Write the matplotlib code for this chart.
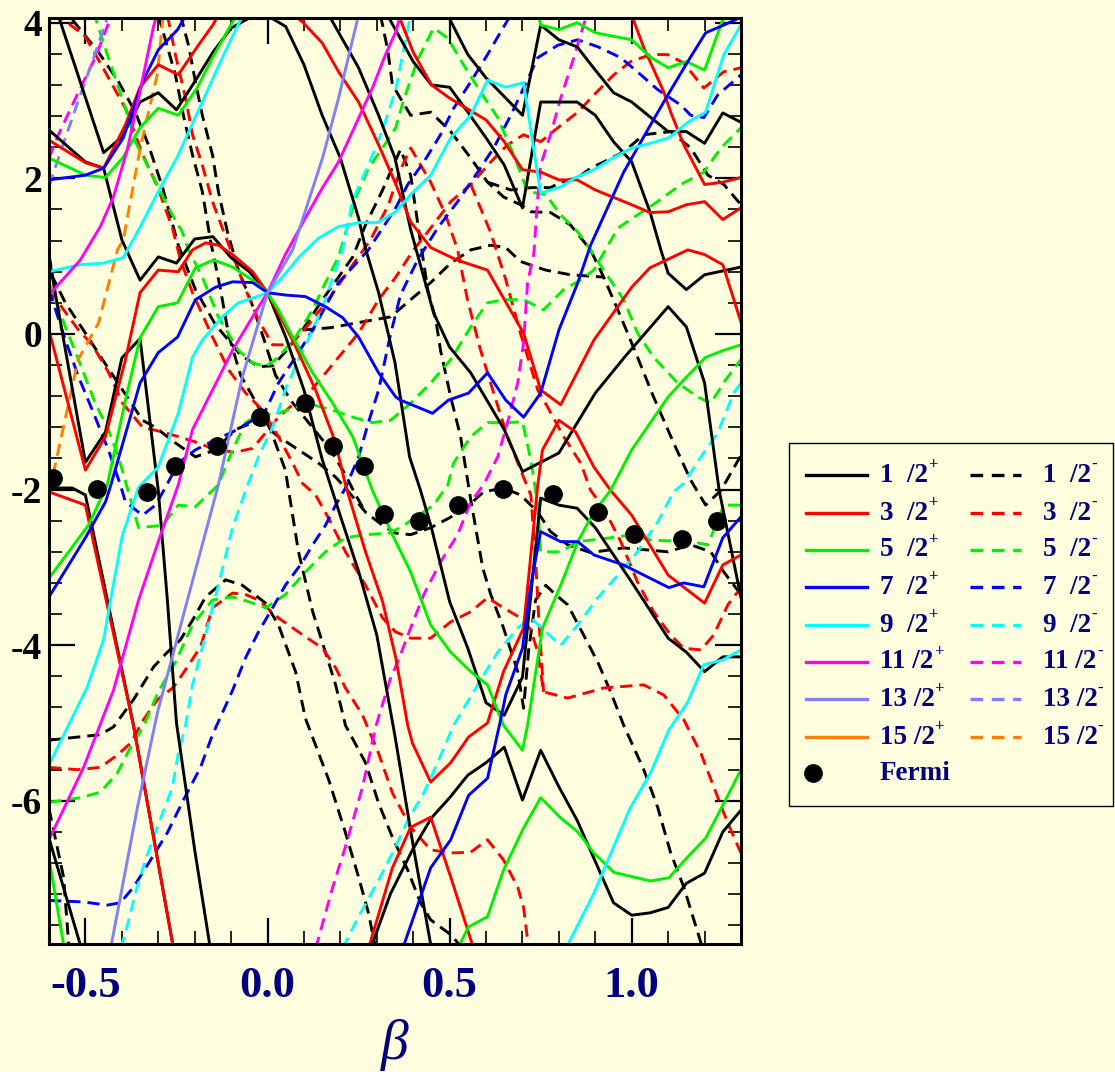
import matplotlib
matplotlib.use('Agg')
import matplotlib.pyplot as plt
from matplotlib.lines import Line2D
from matplotlib.patches import Rectangle
from matplotlib.ticker import MultipleLocator, FormatStrFormatter

plt.rcParams['axes.unicode_minus'] = False

bg = '#ffffe0'
navy = '#000080'

# ---- positive parity levels (solid), (beta, E) pairs ----
k1 = [(-0.575,4.10),(-0.45,2.33),(-0.40,2.53),(-0.35,2.98),(-0.30,3.10),(-0.25,2.88),(-0.20,3.24),(-0.15,3.62),(-0.10,3.93),(-0.05,4.06),(0.0,4.09),(0.05,3.95),(0.10,3.46),(0.15,2.81),(0.20,2.26),(0.25,1.49),(0.27,1.08),(0.305,0.53),(0.35,-0.37),(0.39,-1.58),(0.42,-2.01),(0.45,-2.49),(0.50,-3.44),(0.55,-4.04),(0.60,-4.74),(0.65,-4.90),(0.70,-4.41),(0.75,-2.11),(0.80,-2.20),(0.85,-2.24),(0.90,-2.49),(1.00,-3.19),(1.10,-3.91),(1.15,-4.09),(1.20,-4.34),(1.25,-4.15),(1.30,-4.15)]
k2 = [(-0.60,2.62),(-0.50,2.21),(-0.45,2.13),(-0.40,1.21),(-0.35,0.69),(-0.30,0.99),(-0.25,0.91),(-0.20,1.22),(-0.15,1.25),(-0.10,0.98),(-0.05,0.80),(0.0,0.53),(0.05,-0.04),(0.10,-0.72),(0.15,-1.61),(0.20,-2.34),(0.25,-3.05),(0.30,-3.87),(0.35,-5.17),(0.40,-6.58),(0.45,-7.90)]
k3 = [(-0.60,0.98),(-0.50,-1.65),(-0.445,-1.26),(-0.40,-0.31),(-0.35,-0.06),(-0.30,-2.01),(-0.275,-3.42),(-0.25,-5.00),(-0.20,-6.63),(-0.157,-7.90)]
k4 = [(-0.60,-1.98),(-0.536,-1.98),(-0.50,-2.07),(-0.368,-5.03),(-0.258,-7.90)]
k5 = [(-0.60,-6.48),(-0.511,-7.90)]
k6 = [(0.283,-7.90),(0.338,-7.19),(0.398,-6.63),(0.45,-6.22),(0.50,-5.96),(0.55,-5.67),(0.60,-5.51),(0.65,-5.31),(0.70,-5.99),(0.75,-5.35),(0.80,-5.82),(0.85,-6.25),(0.95,-7.31),(1.00,-7.47),(1.05,-7.44),(1.10,-7.37),(1.15,-7.06),(1.20,-6.93),(1.25,-6.40),(1.30,-6.12)]
k7 = [(0.324,4.14),(0.40,3.50),(0.45,3.20),(0.50,3.17),(0.55,2.85),(0.60,2.52),(0.65,2.17),(0.70,1.62),(0.75,2.98),(0.85,2.98),(0.90,2.81),(0.95,2.47),(1.00,2.21),(1.05,1.57),(1.08,1.08),(1.10,0.78),(1.15,0.57),(1.20,0.76),(1.30,0.86)]
k8 = [(0.49,4.14),(0.55,3.59),(0.60,3.29),(0.65,3.05),(0.70,2.81),(0.75,3.97),(0.80,3.78),(0.85,3.69),(0.90,3.39),(0.95,3.10),(1.00,2.98),(1.05,2.79),(1.10,2.60),(1.15,2.60),(1.20,2.45),(1.25,2.84),(1.30,2.72)]
k9 = [(0.168,4.10),(0.25,3.42),(0.305,2.81),(0.35,2.26),(0.393,1.34),(0.456,0.27),(0.50,-0.17),(0.558,-0.50),(0.65,-1.23),(0.70,-1.77),(0.80,-1.53),(0.90,-0.76),(0.98,-0.30),(1.10,0.35),(1.15,0.09),(1.20,-0.63),(1.24,-2.01),(1.30,-3.39)]

r1 = [(-0.60,2.49),(-0.50,2.20),(-0.45,2.13),(-0.39,2.69),(-0.35,3.17),(-0.30,3.46),(-0.245,3.33),(-0.19,3.71),(-0.15,3.97),(-0.135,4.10)]
r2 = [(0.063,4.13),(0.096,4.01),(0.15,3.74),(0.195,3.37),(0.25,2.98),(0.305,2.43),(0.35,1.95),(0.393,1.44),(0.448,1.11),(0.52,0.95),(0.604,0.82),(0.703,0.01),(0.75,-0.72),(0.805,-0.91),(0.896,-0.08),(1.00,0.60),(1.05,0.85),(1.154,1.08),(1.20,1.02),(1.25,0.89),(1.30,0.15)]
r3 = [(0.357,4.13),(0.40,3.62),(0.45,3.20),(0.50,3.03),(0.55,2.89),(0.60,2.75),(0.65,2.47),(0.70,2.11),(0.75,2.08),(0.80,1.98),(0.85,1.98),(0.90,1.85),(1.00,1.66),(1.05,1.56),(1.10,1.57),(1.15,1.66),(1.20,1.70),(1.25,1.47),(1.30,1.62)]
r4 = [(0.997,4.13),(1.033,3.68),(1.088,3.11),(1.107,2.85),(1.143,2.43),(1.20,1.92),(1.25,1.95),(1.30,2.01)]
r5 = [(-0.60,-2.03),(-0.50,-2.20),(-0.368,-5.03),(-0.258,-7.90)]
r6 = [(-0.60,0.05),(-0.50,-1.75),(-0.445,-1.32),(-0.39,-0.33),(-0.35,0.53),(-0.30,0.82),(-0.245,0.80),(-0.206,1.08),(-0.17,1.17),(-0.135,1.14),(-0.096,1.02),(-0.041,0.80),(0.0,0.53),(0.069,-0.08),(0.132,-0.72),(0.187,-1.40),(0.214,-1.94),(0.269,-2.80),(0.316,-3.44),(0.352,-4.16),(0.385,-5.03),(0.398,-5.26),(0.448,-5.76),(0.503,-5.51),(0.552,-5.18),(0.604,-5.00),(0.648,-4.34),(0.703,-3.78),(0.742,-1.94),(0.755,-1.49),(0.80,-1.11),(0.846,-1.26),(0.896,-1.71),(0.942,-2.01),(1.00,-2.33),(1.10,-3.10),(1.20,-3.46),(1.25,-2.97),(1.30,-2.84)]
r7 = [(0.277,-7.90),(0.343,-6.86),(0.393,-6.34),(0.448,-6.21),(0.503,-6.98),(0.566,-7.90)]

g1 = [(-0.60,2.26),(-0.50,2.04),(-0.445,2.01),(-0.398,2.26),(-0.35,2.65),(-0.30,2.90),(-0.245,2.81),(-0.192,3.17),(-0.151,3.55),(-0.096,4.01),(-0.08,4.14)]
g2 = [(0.742,4.14),(0.75,3.97),(0.80,3.91),(0.85,4.00),(0.90,3.87),(1.00,3.78),(1.05,3.56),(1.10,3.42),(1.15,3.50),(1.20,3.39),(1.25,4.04),(1.30,4.10)]
g3 = [(-0.60,-3.14),(-0.492,-2.46),(-0.44,-1.94),(-0.39,-0.85),(-0.35,-0.05),(-0.30,0.35),(-0.247,0.40),(-0.198,0.85),(-0.148,0.95),(-0.096,0.86),(-0.041,0.69),(0.0,0.53),(0.03,0.31),(0.069,-0.04),(0.124,-0.50),(0.179,-0.89),(0.234,-1.32),(0.288,-2.01),(0.343,-2.58),(0.393,-3.06),(0.448,-3.74),(0.503,-4.09),(0.558,-4.34),(0.604,-4.51),(0.648,-5.03),(0.70,-5.35),(0.714,-5.03),(0.755,-3.78),(0.805,-3.23),(0.852,-2.67),(0.896,-2.29),(0.942,-2.01),(1.00,-1.49),(1.10,-0.81),(1.143,-0.59),(1.203,-0.30),(1.253,-0.21),(1.30,-0.14)]
g4 = [(0.522,-7.90),(0.552,-7.62),(0.604,-7.49),(0.648,-6.89),(0.703,-6.35),(0.75,-5.96),(0.805,-6.22),(0.852,-6.40),(0.896,-6.67),(0.951,-6.92),(1.052,-7.03),(1.102,-6.99),(1.154,-6.72),(1.203,-6.48),(1.253,-6.03),(1.30,-5.60)]
g5 = [(-0.60,-6.74),(-0.558,-7.90)]

b1 = [(-0.60,1.98),(-0.50,2.04),(-0.45,2.13),(-0.396,2.52),(-0.343,3.24),(-0.30,3.65),(-0.247,3.91),(-0.22,4.13)]
b2 = [(-0.60,-3.38),(-0.50,-2.62),(-0.445,-2.16),(-0.43,-1.94),(-0.35,-0.63),(-0.30,-0.24),(-0.247,-0.04),(-0.198,0.44),(-0.143,0.60),(-0.096,0.67),(-0.041,0.66),(0.0,0.53),(0.049,0.50),(0.104,0.48),(0.159,0.35),(0.206,0.21),(0.25,-0.04),(0.305,-0.50),(0.352,-0.81),(0.365,-0.85),(0.453,-1.02),(0.497,-0.85),(0.552,-0.76),(0.604,-0.50),(0.654,-0.85),(0.703,-1.07),(0.75,-0.76),(0.80,0.05),(0.852,0.66),(0.887,1.14),(0.978,2.08),(1.052,2.69),(1.099,3.07),(1.154,3.50),(1.203,3.87),(1.253,3.97),(1.30,4.07)]
b3 = [(0.371,-7.90),(0.448,-6.86),(0.503,-6.50),(0.552,-5.93),(0.604,-5.71),(0.64,-4.96),(0.654,-4.64),(0.70,-4.04),(0.723,-3.23),(0.75,-2.54),(0.805,-2.67),(0.852,-2.67),(0.896,-2.84),(0.978,-2.97),(1.102,-3.26),(1.143,-3.20),(1.198,-3.25),(1.25,-2.62),(1.30,-2.35)]

c1 = [(-0.60,0.80),(-0.514,0.89),(-0.45,0.91),(-0.396,0.98),(-0.349,1.38),(-0.302,1.81),(-0.247,2.28),(-0.179,2.98),(-0.124,3.55),(-0.074,4.04),(-0.063,4.14)]
c2 = [(-0.60,-5.54),(-0.495,-4.54),(-0.45,-3.93),(-0.431,-3.42),(-0.398,-2.58),(-0.354,-1.97),(-0.30,-1.71),(-0.245,-1.02),(-0.206,-0.30),(-0.179,-0.08),(-0.124,0.22),(-0.08,0.40),(-0.041,0.46),(0.0,0.53),(0.041,0.73),(0.085,0.98),(0.14,1.23),(0.195,1.38),(0.25,1.43),(0.302,1.43),(0.352,1.57),(0.393,1.79),(0.448,2.04),(0.503,2.52),(0.558,2.81),(0.604,3.26),(0.654,3.17),(0.703,3.23),(0.742,2.04),(0.75,1.81),(0.805,1.89),(0.846,2.01),(0.896,2.11),(0.948,2.26),(1.00,2.39),(1.052,2.45),(1.102,2.52),(1.154,2.72),(1.203,2.85),(1.253,3.59),(1.30,3.97)]
c3 = [(0.819,-7.90),(0.896,-7.19),(0.997,-6.08),(1.052,-5.64),(1.102,-5.09),(1.154,-4.73),(1.198,-4.25),(1.25,-4.19),(1.30,-4.06)]

m1 = [(-0.60,0.50),(-0.514,0.95),(-0.459,1.38),(-0.423,1.76),(-0.385,2.37),(-0.349,3.14),(-0.313,3.95),(-0.302,4.13)]
m2 = [(-0.60,-6.50),(-0.505,-5.57),(-0.423,-4.58),(-0.354,-3.42),(-0.30,-2.67),(-0.245,-1.94),(-0.206,-1.23),(-0.151,-0.72),(-0.096,-0.21),(-0.041,0.22),(0.0,0.53),(0.049,1.02),(0.104,1.49),(0.151,1.88),(0.195,2.21),(0.242,2.69),(0.288,3.16),(0.324,3.59),(0.352,3.88),(0.365,4.10)]
l1 = [(-0.431,-7.90),(-0.357,-6.08),(-0.302,-4.86),(-0.22,-3.42),(-0.135,-1.94),(-0.069,-0.55),(0.0,0.53),(0.069,1.08),(0.151,2.26),(0.195,3.03),(0.25,4.10)]

# ---- negative parity levels (dashed) ----
kd1 = [(-0.536,4.04),(-0.464,3.62),(-0.409,3.24),(-0.363,2.85),(-0.327,2.43),(-0.288,1.88),(-0.245,1.14),(-0.198,0.57),(-0.143,0.12),(-0.074,-0.27),(-0.025,-0.42),(0.014,-0.41),(0.049,-0.23),(0.096,0.05),(0.151,0.44),(0.195,0.73),(0.234,0.99),(0.269,1.40),(0.316,1.85),(0.346,2.17),(0.365,2.37),(0.393,2.04),(0.415,1.34),(0.44,0.57),(0.462,0.18),(0.475,-0.21),(0.503,-0.81),(0.53,-1.32),(0.558,-2.13),(0.591,-3.01),(0.613,-3.35),(0.648,-3.78),(0.687,-4.34),(0.703,-4.81),(0.717,-4.06),(0.736,-3.42),(0.764,-3.23),(0.791,-3.35),(0.824,-3.48),(0.868,-3.87),(0.907,-4.22),(0.942,-4.60),(0.978,-5.03),(1.033,-5.60),(1.071,-6.08),(1.107,-6.67),(1.143,-7.11),(1.195,-7.90)]
kd2 = [(0.31,4.10),(0.33,3.65),(0.343,3.20),(0.393,2.81),(0.448,2.85),(0.503,2.60),(0.558,2.26),(0.604,1.95),(0.648,1.76),(0.695,1.66),(0.723,1.57),(0.777,1.56),(0.832,1.40),(0.887,1.08),(0.923,0.73),(0.97,0.22),(1.016,-0.30),(1.06,-0.81),(1.115,-1.40),(1.162,-1.88),(1.203,-2.20),(1.245,-2.01),(1.30,-1.56)]
kd3 = [(-0.60,1.02),(-0.59,0.73),(-0.555,0.40),(-0.50,0.01),(-0.453,-0.33),(-0.398,-0.72),(-0.343,-1.11),(-0.308,-1.20),(-0.253,-1.40),(-0.198,-1.58),(-0.143,-1.49),(-0.088,-1.23),(-0.025,-1.11),(0.03,-1.32),(0.085,-1.49),(0.14,-1.66),(0.187,-1.84),(0.214,-1.98),(0.269,-2.29),(0.316,-2.46),(0.352,-2.56),(0.393,-2.58),(0.448,-2.49),(0.497,-2.37),(0.544,-2.24),(0.593,-2.03),(0.648,-1.98),(0.695,-2.07),(0.742,-2.29),(0.777,-2.54),(0.824,-2.71),(0.887,-2.81),(0.978,-2.75),(1.052,-2.78),(1.099,-2.80),(1.162,-2.71),(1.217,-2.80),(1.253,-3.06),(1.30,-3.35)]
kd4 = [(-0.60,-5.22),(-0.459,-5.15),(-0.423,-5.05),(-0.368,-4.70),(-0.313,-4.28),(-0.275,-4.09),(-0.239,-3.93),(-0.206,-3.68),(-0.17,-3.38),(-0.115,-3.16),(-0.069,-3.23),(-0.005,-3.46),(0.03,-3.74),(0.077,-4.34),(0.104,-4.94),(0.168,-5.73),(0.214,-6.41),(0.25,-6.98),(0.277,-7.44),(0.297,-7.90)]
kd5 = [(-0.30,4.10),(-0.253,3.33),(-0.231,2.81),(-0.206,2.30),(-0.179,1.83),(-0.157,1.21),(-0.129,0.57),(-0.107,-0.01),(-0.074,-0.53),(-0.033,-0.87),(0.008,-1.23),(0.049,-1.75),(0.085,-2.80),(0.124,-3.57),(0.159,-4.09),(0.187,-4.51),(0.214,-5.03),(0.269,-5.51),(0.305,-6.03),(0.343,-6.47),(0.385,-6.89),(0.42,-7.31),(0.448,-7.53),(0.503,-7.72),(0.536,-7.90)]
kd6 = [(-0.239,4.10),(-0.217,3.71),(-0.198,3.24),(-0.179,2.81),(-0.151,2.30),(-0.135,1.83),(-0.11,1.31),(-0.08,0.82),(-0.047,0.44),(-0.014,-0.01),(0.022,-0.53),(0.063,-0.85),(0.118,-1.17),(0.173,-1.49),(0.214,-1.81),(0.242,-2.07),(0.269,-2.29)]
kd7 = [(-0.60,-6.10),(-0.56,-6.98),(-0.545,-7.90)]
kd8 = [(0.604,1.95),(0.668,1.85),(0.723,1.88),(0.777,1.88),(0.805,1.95),(0.852,2.01),(0.887,2.13),(0.923,2.21),(0.978,2.34),(1.033,2.56),(1.107,2.60),(1.162,2.39),(1.209,2.04),(1.253,1.92),(1.30,1.66)]
kd9 = [(0.096,0.05),(0.173,0.08),(0.255,0.15),(0.338,0.22),(0.393,0.44),(0.448,0.66),(0.503,0.91),(0.558,1.08),(0.613,1.14),(0.654,1.11),(0.695,0.93),(0.764,0.82),(0.832,0.76),(0.923,0.73)]

rd1 = [(-0.588,4.13),(-0.503,3.84),(-0.453,3.43),(-0.387,2.87),(-0.346,2.34),(-0.302,1.89),(-0.261,1.36),(-0.239,0.95),(-0.206,0.53),(-0.151,-0.04),(-0.107,-0.46),(-0.06,-0.76),(-0.014,-0.98),(0.03,-1.32),(0.069,-1.66),(0.096,-1.92),(0.132,-2.07),(0.168,-2.37),(0.214,-2.80),(0.269,-3.23),(0.316,-3.65),(0.352,-3.83),(0.393,-3.91),(0.448,-3.91),(0.503,-3.70),(0.558,-3.57),(0.604,-3.39),(0.648,-3.52),(0.695,-3.65),(0.723,-3.80),(0.742,-4.09),(0.758,-4.60),(0.824,-4.68),(0.923,-4.55),(1.033,-4.51),(1.088,-4.64),(1.143,-4.96),(1.19,-5.39),(1.225,-5.82),(1.264,-6.29),(1.30,-6.67)]
rd2 = [(-0.275,4.10),(-0.253,3.59),(-0.225,3.03),(-0.206,2.56),(-0.179,2.17),(-0.151,1.70),(-0.124,1.36),(-0.096,1.02),(-0.06,0.57),(-0.025,0.18),(0.014,-0.14),(0.063,-0.14),(0.118,0.15),(0.173,0.48),(0.228,0.85),(0.283,1.21),(0.332,1.66),(0.365,2.11),(0.393,2.39),(0.448,1.95),(0.489,1.53),(0.522,1.08),(0.549,0.44),(0.585,-0.21),(0.621,-0.76),(0.659,-1.32),(0.695,-1.75),(0.723,-2.07),(0.736,-2.90),(0.745,-3.68),(0.758,-4.60)]
rd3 = [(-0.60,-5.57),(-0.522,-5.60),(-0.459,-5.57),(-0.412,-5.41),(-0.376,-5.26),(-0.341,-4.96),(-0.302,-4.70),(-0.258,-4.54),(-0.22,-4.28),(-0.184,-4.02),(-0.151,-3.52),(-0.096,-3.33),(-0.06,-3.35),(-0.025,-3.42),(0.03,-3.65),(0.085,-3.83),(0.151,-4.04),(0.187,-4.29),(0.214,-4.55),(0.261,-4.90),(0.305,-5.39),(0.343,-5.90),(0.393,-6.34),(0.448,-6.63),(0.503,-6.67),(0.558,-6.66),(0.604,-6.50),(0.648,-6.76),(0.687,-7.11),(0.703,-7.37),(0.717,-7.90)]
rd4 = [(-0.60,0.57),(-0.555,0.28),(-0.519,0.05),(-0.481,-0.14),(-0.437,-0.49),(-0.398,-0.89),(-0.343,-1.20),(-0.288,-1.26),(-0.245,-1.32),(-0.19,-1.40),(-0.143,-1.49),(-0.088,-1.52),(-0.041,-1.47),(-0.014,-1.32),(0.03,-1.07),(0.069,-0.91),(0.104,-0.81),(0.151,-0.55),(0.195,-0.30),(0.25,0.01),(0.305,0.44),(0.352,0.73),(0.401,1.08),(0.448,1.36),(0.503,1.70),(0.558,1.92),(0.613,2.21),(0.659,2.43),(0.703,2.56),(0.75,2.47),(0.797,2.65),(0.852,2.85),(0.896,3.07),(0.951,3.33),(0.997,3.50),(1.052,3.59),(1.099,3.59),(1.143,3.48),(1.198,3.16),(1.253,3.37),(1.30,3.42)]
rd5 = [(0.558,1.92),(0.613,1.30),(0.654,0.70),(0.695,0.0),(0.742,-0.72),(0.769,-0.94),(0.813,-1.32),(0.86,-1.66),(0.887,-2.01),(0.923,-2.24),(0.97,-2.67),(1.016,-3.19),(1.06,-3.57),(1.107,-3.87),(1.143,-4.04),(1.19,-4.06),(1.225,-3.87),(1.264,-3.48),(1.30,-3.26)]

gd1 = [(-0.478,4.14),(-0.437,3.55),(-0.39,2.90),(-0.363,2.47),(-0.316,2.04),(-0.272,1.62),(-0.234,1.31),(-0.217,1.08),(-0.179,0.73),(-0.135,0.22),(-0.08,-0.21),(-0.041,-0.37),(-0.005,-0.42),(0.03,-0.30),(0.077,-0.04),(0.124,0.31),(0.159,0.66),(0.195,0.99),(0.242,1.75),(0.277,2.13),(0.316,2.39),(0.352,2.65),(0.374,3.01),(0.412,3.52),(0.456,3.93),(0.495,3.80),(0.538,3.46),(0.585,3.11),(0.632,2.78),(0.676,2.30),(0.714,1.83),(0.764,1.79),(0.805,1.53),(0.852,1.31),(0.887,1.08),(0.923,0.82),(0.978,0.44),(1.016,0.01),(1.06,-0.30),(1.126,-0.63),(1.181,-0.81),(1.217,-0.89),(1.258,-0.59),(1.30,-0.33)]
gd2 = [(-0.60,0.66),(-0.555,0.09),(-0.519,-0.33),(-0.473,-0.89),(-0.437,-1.23),(-0.409,-1.58),(-0.382,-2.03),(-0.354,-2.49),(-0.288,-2.46),(-0.245,-2.20),(-0.198,-2.22),(-0.135,-1.94),(-0.096,-1.49),(-0.06,-1.14),(-0.025,-1.04),(0.03,-1.02),(0.077,-0.94),(0.124,-0.91),(0.179,-0.98),(0.234,-1.07),(0.288,-1.14),(0.338,-1.11),(0.393,-0.89),(0.448,-0.63),(0.503,-0.33),(0.558,0.09),(0.604,0.40),(0.648,0.44),(0.703,0.44),(0.758,0.31),(0.813,0.57),(0.852,0.67),(0.896,0.82),(0.962,1.36),(1.016,1.53),(1.071,1.70),(1.135,1.92),(1.198,2.08),(1.245,2.39),(1.30,2.65)]
gd3 = [(-0.60,-6.02),(-0.514,-5.96),(-0.459,-5.89),(-0.412,-5.64),(-0.376,-5.31),(-0.341,-5.05),(-0.30,-4.60),(-0.253,-4.22),(-0.206,-3.74),(-0.151,-3.42),(-0.096,-3.38),(-0.052,-3.44),(-0.005,-3.52),(0.049,-3.35),(0.104,-3.06),(0.159,-2.80),(0.214,-2.62),(0.269,-2.58),(0.332,-2.56),(0.365,-2.49),(0.456,-2.20),(0.495,-1.94),(0.511,-1.66),(0.558,-1.32),(0.604,-1.14),(0.654,-1.14),(0.70,-1.13),(0.723,-1.62),(0.742,-2.20),(0.75,-2.80),(0.805,-2.80),(0.852,-2.67),(0.942,-2.62),(1.00,-2.58),(1.052,-2.65),(1.162,-2.67),(1.209,-2.71),(1.253,-2.20),(1.30,-2.20)]

bd1 = [(-0.60,0.57),(-0.555,-0.08),(-0.519,-0.55),(-0.481,-0.98),(-0.437,-1.49),(-0.404,-1.94),(-0.39,-2.16),(-0.343,-2.33),(-0.308,-2.20),(-0.28,-1.97),(-0.245,-1.66),(-0.198,-1.49),(-0.143,-1.36),(-0.096,-1.26),(-0.041,-1.11),(-0.005,-0.98),(0.03,-0.63),(0.085,-0.24),(0.124,0.05),(0.159,0.35),(0.195,0.66),(0.234,0.86),(0.277,1.08),(0.316,1.36),(0.352,1.62),(0.385,1.92),(0.429,2.21),(0.475,2.56),(0.511,2.90),(0.558,3.24),(0.604,3.59),(0.64,3.88),(0.668,4.10)]
bd2 = [(-0.60,-7.28),(-0.505,-7.30),(-0.44,-7.34),(-0.404,-7.31),(-0.368,-7.11),(-0.321,-6.76),(-0.275,-6.41),(-0.231,-5.99),(-0.184,-5.57),(-0.151,-5.15),(-0.096,-4.58),(-0.06,-4.16),(-0.025,-3.83),(0.014,-3.52),(0.049,-3.23),(0.096,-2.93),(0.124,-2.71),(0.159,-2.46),(0.187,-2.20),(0.214,-1.98),(0.25,-1.58),(0.277,-1.14),(0.305,-0.72),(0.338,0.0),(0.365,0.50),(0.412,0.95),(0.467,1.36),(0.522,1.70),(0.577,2.08),(0.621,2.39),(0.668,2.81),(0.703,3.16),(0.742,3.55),(0.797,3.71),(0.852,3.78),(0.907,3.69),(0.97,3.55),(1.025,3.33),(1.071,3.14),(1.135,2.94),(1.162,2.81),(1.198,2.78),(1.236,3.07),(1.30,3.33)]

cd1 = [(-0.404,-7.90),(-0.39,-7.70),(-0.363,-7.19),(-0.335,-6.76),(-0.308,-6.41),(-0.288,-6.16),(-0.261,-5.82),(-0.245,-5.39),(-0.225,-5.03),(-0.206,-4.51),(-0.17,-3.87),(-0.135,-3.23),(-0.096,-2.49),(-0.06,-2.01),(-0.025,-1.58),(0.014,-1.20),(0.049,-0.72),(0.085,-0.33),(0.124,0.05),(0.159,0.44),(0.187,0.82),(0.206,1.08),(0.234,1.72),(0.277,2.17),(0.316,2.62),(0.352,3.14),(0.393,4.10)]
cd2 = [(0.206,-7.90),(0.25,-7.49),(0.305,-7.02),(0.352,-6.59),(0.385,-6.25),(0.429,-5.90),(0.467,-5.51),(0.511,-5.03),(0.577,-4.51),(0.632,-4.09),(0.687,-3.78),(0.723,-3.65),(0.764,-3.83),(0.805,-4.00),(0.852,-3.74),(0.907,-3.39),(0.962,-3.10),(1.016,-2.80),(1.071,-2.42),(1.115,-2.03),(1.143,-1.92),(1.19,-1.58),(1.236,-1.27),(1.28,-0.76),(1.30,-0.63)]

md1 = [(-0.60,2.26),(-0.574,2.56),(-0.519,3.11),(-0.473,3.55),(-0.431,4.06)]
md2 = [(0.132,-7.90),(0.179,-7.11),(0.214,-6.59),(0.261,-5.82),(0.297,-5.05),(0.338,-4.42),(0.357,-4.22),(0.393,-3.78),(0.429,-3.35),(0.475,-2.93),(0.522,-2.58),(0.558,-2.16),(0.593,-1.94),(0.632,-1.58),(0.659,-1.14),(0.687,-0.63),(0.703,-0.12),(0.714,0.66),(0.731,1.02),(0.742,1.75),(0.75,2.17),(0.777,2.56),(0.805,3.03),(0.841,3.55),(0.868,3.97),(0.879,4.14)]
ld1 = [(-0.60,1.90),(-0.59,2.04),(-0.555,2.52),(-0.514,3.07),(-0.481,3.50),(-0.437,4.10)]
od1 = [(-0.60,-2.05),(-0.52,-0.33),(-0.464,0.14),(-0.412,1.08),(-0.396,1.21),(-0.349,2.40),(-0.302,3.35),(-0.286,4.13)]

# Fermi level
fermi_beta = [-0.59,-0.467,-0.33,-0.255,-0.14,-0.022,0.104,0.181,0.266,0.321,0.415,0.522,0.646,0.783,0.907,1.005,1.137,1.234]
fermi_e = [-1.85,-1.99,-2.03,-1.70,-1.44,-1.07,-0.89,-1.44,-1.70,-2.31,-2.40,-2.20,-1.99,-2.06,-2.29,-2.57,-2.64,-2.40]

numerators = ['1', '3', '5', '7', '9', '11', '13', '15']
colors = ['#000000', '#ff0000', '#00f000', '#0000ff', '#00ffff', '#ff00ff', '#8080ff', '#ff8000']
solid_sets = [[k1, k2, k3, k4, k5, k6, k7, k8, k9], [r1, r2, r3, r4, r5, r6, r7],
              [g1, g2, g3, g4, g5], [b1, b2, b3], [c1, c2, c3], [m1, m2], [l1], []]
dashed_sets = [[kd1, kd2, kd3, kd4, kd5, kd6, kd7, kd8, kd9], [rd1, rd2, rd3, rd4, rd5],
               [gd1, gd2, gd3], [bd1, bd2], [cd1, cd2], [md1, md2], [ld1], [od1]]

LW = 2.1
DASH = (0, (4.2, 2.4))

fig = plt.figure(figsize=(11.15, 10.72), dpi=100, facecolor=bg)
W, H = 1115.0, 1072.0
ax = fig.add_axes([49 / W, 1 - 944 / H, 692 / W, 926 / H])
ax.set_facecolor(bg)

for col, curves in zip(colors, dashed_sets):
    for c in curves:
        bb, ee = zip(*c)
        ax.plot(bb, ee, color=col, lw=LW, ls=DASH)
for col, curves in zip(colors, solid_sets):
    for c in curves:
        bb, ee = zip(*c)
        ax.plot(bb, ee, color=col, lw=LW, ls='-')
ax.plot(fermi_beta, fermi_e, ls='none', marker='o', ms=12.5, color='black', zorder=5)

ax.set_xlim(-0.6, 1.3)
ax.set_ylim(-7.84, 4.06)
ax.xaxis.set_major_locator(MultipleLocator(0.5))
ax.xaxis.set_minor_locator(MultipleLocator(0.1))
ax.yaxis.set_major_locator(MultipleLocator(2))
ax.yaxis.set_minor_locator(MultipleLocator(0.4))
ax.xaxis.set_major_formatter(FormatStrFormatter('%.1f'))
ax.yaxis.set_major_formatter(FormatStrFormatter('%d'))
ax.tick_params(which='major', direction='in', top=True, right=True, length=19, width=1.6)
ax.tick_params(which='minor', direction='in', top=True, right=True, length=9.5, width=1.2)
ax.tick_params(axis='x', pad=16)
ax.tick_params(axis='y', pad=5)
for lab in ax.get_xticklabels():
    lab.set_fontfamily('Liberation Serif'); lab.set_fontweight('bold')
    lab.set_fontsize(32); lab.set_color(navy)
for lab in ax.get_yticklabels():
    lab.set_fontfamily('Liberation Serif'); lab.set_fontweight('bold')
    lab.set_fontsize(27); lab.set_color('black')
for s in ax.spines.values():
    s.set_linewidth(2.2)

fig.text(395 / W, 1 - 1045 / H, 'β', fontfamily='Liberation Serif', fontstyle='italic',
         fontsize=40, color=navy, ha='center', va='center')

# legend drawn by hand
def fx(x):
    return x / W

def fy(y):
    return 1 - y / H

fig.add_artist(Rectangle((fx(789), fy(806)), fx(1113) - fx(789), fy(443) - fy(806),
                         transform=fig.transFigure, facecolor=bg, edgecolor='black', lw=1.0))
rows = [475, 513, 550, 587, 625, 662, 699, 737]
tfont = dict(fontfamily='Liberation Serif', fontweight='bold', fontsize=19.5, color=navy, va='center')
sfont = dict(fontfamily='Liberation Serif', fontweight='bold', fontsize=12, color=navy, va='center')
for i, (num, col) in enumerate(zip(numerators, colors)):
    y = fy(rows[i])
    fig.add_artist(Line2D([fx(806), fx(867)], [y, y], color=col, lw=2.4, transform=fig.transFigure))
    fig.add_artist(Line2D([fx(970), fx(1021)], [y, y], color=col, lw=2.4, ls=(0, (3.8, 2.6)),
                          transform=fig.transFigure))
    pad = '  ' if len(num) == 1 else ' '
    shift = 0 if len(num) == 1 else 6
    fig.text(fx(880), y, num + pad + '/2', **tfont)
    fig.text(fx(928 + shift), fy(rows[i] - 10), '+', **sfont)
    fig.text(fx(1043), y, num + pad + '/2', **tfont)
    fig.text(fx(1091 + shift), fy(rows[i] - 10), '-', **sfont)
fig.add_artist(Line2D([fx(813)], [fy(773)], ls='none', marker='o', ms=12.5, color='black',
                      transform=fig.transFigure))
fig.text(fx(880), fy(773), 'Fermi', **tfont)

fig.savefig('out.png', dpi=100, facecolor=bg)
